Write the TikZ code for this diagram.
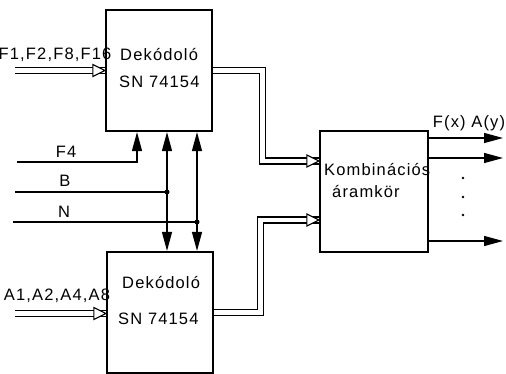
\documentclass[tikz,border=0pt]{standalone}
\usepackage{fontspec}
\setmainfont[LetterSpace=7]{Liberation Sans}
\usetikzlibrary{arrows.meta,calc}
\newcommand{\opentri}[1]{\draw[line width=1.1pt,fill=white,line join=miter] (#1) -- ++(-12,-6) -- ++(0,12) -- cycle;}
\begin{document}
\begin{tikzpicture}[x=1pt,y=-1pt,
  box/.style={draw,line width=2.2pt,minimum width=106pt,minimum height=121pt,inner sep=0pt},
  wire/.style={line width=1.3pt},
  bus/.style={double,double distance=4.6pt,line width=1.3pt},
  fa/.style={-{Triangle[length=19pt,width=10pt]}},
  fab/.style={{Triangle[length=19pt,width=10pt]}-{Triangle[length=19pt,width=10pt]}},
  lbl/.style={font=\fontsize{16.5}{18}\selectfont,inner sep=0pt},
  jdot/.style={circle,fill,inner sep=0pt,minimum size=5pt}
]
\useasboundingbox (0,0) rectangle (506,374);
% boxes
\node[box] (dec1) at (159,70.5) {};
\node[box] (dec2) at (160,312.5) {};
\node[box,minimum width=108pt] (komb) at (374,191.5) {};
% box texts
\node[lbl,anchor=base west] (d1a) at (120,61) {Dekódoló};
\node[lbl,anchor=base west] (d1b) at (119,88) {SN 74154};
\node[lbl,anchor=base west] (d2a) at (122,288) {Dekódoló};
\node[lbl,anchor=base west] (d2b) at (118,324) {SN 74154};
\node[lbl,anchor=base west] (ka) at (324,176) {Kombinációs};
\node[lbl,anchor=base west] (kb) at (332,198) {áramkör};
% input buses
\coordinate (fin) at (15,70.5);
\coordinate (ain) at (15,313.5);
\draw[bus] (fin) -- (dec1.west);
\opentri{dec1.west}
\draw[bus] (ain) -- (dec2.west |- ain);
\opentri{dec2.west |- ain}
\node[lbl,anchor=base] (fl) at (55,60) {F1,F2,F8,F16};
\node[lbl,anchor=base] (al) at (57,300) {A1,A2,A4,A8};
% buses to combinational block
\coordinate (k1) at (komb.west |- 0,161);
\coordinate (k2) at (komb.west |- 0,220);
\draw[bus] (dec1.east) -- (262.5,70.5) -- (262.5,161) -- (k1);
\opentri{k1}
\draw[bus] (dec2.east) -- (260.5,312.5) -- (260.5,220) -- (k2);
\opentri{k2}
% control lines
\coordinate (f4s) at (17,162);
\draw[wire,fa] (f4s) -| (dec1.south -| 137,0);
\node[lbl,anchor=base] (f4l) at (66,158) {F4};
\coordinate (bs) at (15,192);
\coordinate (ns) at (13,222);
\node[jdot] (bj) at (167,192) {};
\node[jdot] (nj) at (197,222) {};
\draw[wire] (bs) -- (bj.center);
\draw[wire] (ns) -- (nj.center);
\node[lbl,anchor=base] (bl) at (65,187) {B};
\node[lbl,anchor=base] (nl) at (64,218) {N};
\draw[wire,fab] (dec1.south -| bj) -- (dec2.north -| bj);
\draw[wire,fab] (dec1.south -| nj) -- (dec2.north -| nj);
% outputs
\coordinate (o1) at (503,138);
\coordinate (o2) at (503,158);
\coordinate (o3) at (503,241);
\draw[wire,fa] (komb.east |- o1) -- (o1);
\draw[wire,fa] (komb.east |- o2) -- (o2);
\draw[wire,fa] (komb.east |- o3) -- (o3);
\node[lbl,anchor=base] (ol) at (469,128) {F(x) A(y)};
\fill (463,178) circle (1.4);
\fill (463,197) circle (1.4);
\fill (463,215) circle (1.4);
\end{tikzpicture}
\end{document}
